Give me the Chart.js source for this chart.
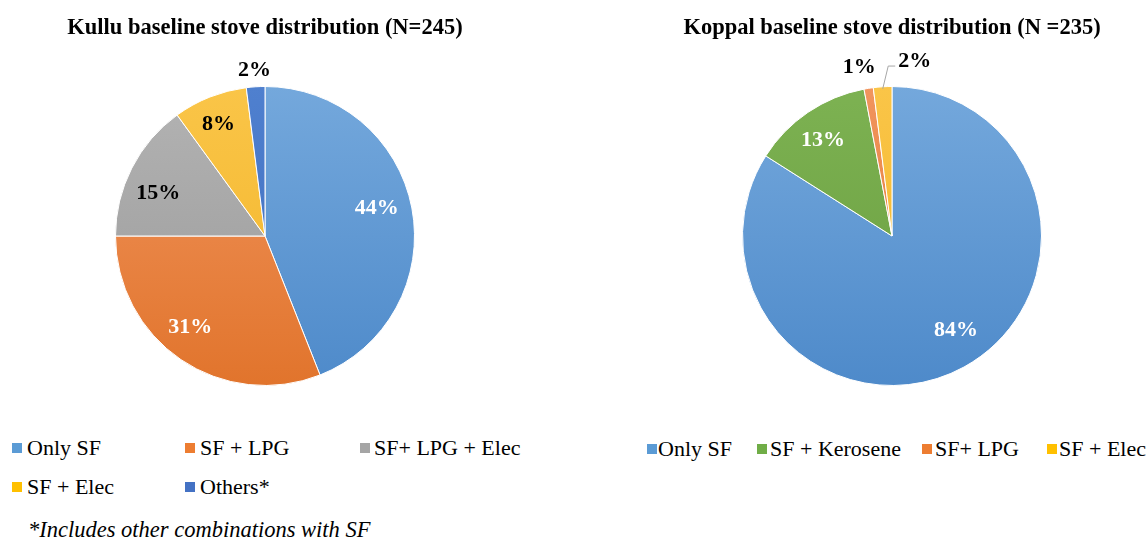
<!DOCTYPE html>
<html>
<head>
<meta charset="utf-8">
<script src="https://cdn.jsdelivr.net/npm/chart.js@4/dist/chart.umd.min.js"></script>
<style>
  body { margin: 0; background: #fff; }
  #wrap { position: relative; width: 1146px; height: 542px; background: #fff; font-family: "Liberation Serif", serif; color: #000; }
  canvas { position: absolute; top: 0; }
  .item { position: absolute; height: 26px; line-height: 26px; font-size: 22px; white-space: nowrap; }
  .sq { position: absolute; width: 10px; height: 10px; top: 8px; left: 0; }
  .note { position: absolute; left: 28px; top: 517px; font-size: 22.5px; font-style: italic; line-height: 26px; }
</style>
</head>
<body>
<div id="wrap">
  <canvas id="kullu" width="530" height="400" style="left:0px"></canvas>
  <canvas id="koppal" width="500" height="400" style="left:642px"></canvas>
  <div class="note">*Includes other combinations with SF</div>
</div>
<script>
// data
const kulluLabels = ["Only SF", "SF + LPG", "SF+ LPG + Elec", "SF + Elec", "Others*"];
const kulluValues = [44, 31, 15, 8, 2];
const koppalLabels = ["Only SF", "SF + Kerosene", "SF+ LPG", "SF + Elec"];
const koppalValues = [84, 13, 1, 2];

// colours (top / bottom of gradient, legend swatch)
const palette = {
  "Only SF": ["#74a8dc", "#4e8aca", "#5b9bd5"],
  "SF + LPG": ["#f1955e", "#e1742c", "#ed7d31"],
  "SF+ LPG": ["#f1955e", "#e1742c", "#ed7d31"],
  "SF+ LPG + Elec": ["#b3b3b3", "#999999", "#a5a5a5"],
  "SF + Elec": ["#fac548", "#f2b428", "#ffc000"],
  "Others*": ["#4f80cf", "#3e6cbc", "#4472c4"],
  "SF + Kerosene": ["#7db252", "#699d3f", "#70ad47"]
};

function gradFill(context) {
  const chart = context.chart;
  const area = chart.chartArea;
  const c = palette[chart.data.labels[context.dataIndex]];
  if (!area) return c[2];
  const g = chart.ctx.createLinearGradient(0, area.top, 0, area.bottom);
  g.addColorStop(0, c[0]);
  g.addColorStop(1, c[1]);
  return g;
}

const pieLabels = {
  id: "pieLabels",
  afterDatasetsDraw(chart, args, opts) {
    const ctx = chart.ctx;
    const meta = chart.getDatasetMeta(0);
    ctx.save();
    ctx.font = "bold 22px 'Liberation Serif'";
    ctx.textBaseline = "middle";
    meta.data.forEach((arc, i) => {
      const p = arc.getProps(["x", "y", "startAngle", "endAngle", "outerRadius"], true);
      const midRaw = (p.startAngle + p.endAngle) / 2;
      const mid = midRaw + (opts.nudge[i] || 0) * Math.PI / 180;
      const r = p.outerRadius * opts.factor[i];
      const x = p.x + Math.cos(mid) * r;
      const y = p.y + Math.sin(mid) * r;
      const text = chart.data.datasets[0].data[i] + "%";
      const w = ctx.measureText(text).width;
      if (opts.leader && opts.leader[i]) {
        const ex = p.x + Math.cos(midRaw) * (p.outerRadius - 2);
        const ey = p.y + Math.sin(midRaw) * (p.outerRadius - 2);
        ctx.strokeStyle = "#a6a6a6";
        ctx.lineWidth = 1;
        ctx.beginPath();
        ctx.moveTo(ex, ey);
        ctx.lineTo(x - w / 2 - 10, y + 5);
        ctx.lineTo(x - w / 2 - 3, y + 5);
        ctx.stroke();
      }
      ctx.fillStyle = opts.colors[i];
      ctx.textAlign = "center";
      ctx.fillText(text, x, y);
    });
    ctx.restore();
  }
};

function makePie(id, labels, values, title, labelOpts) {
  return new Chart(document.getElementById(id), {
    type: "pie",
    data: {
      labels: labels,
      datasets: [{
        data: values,
        backgroundColor: gradFill,
        borderColor: "#ffffff",
        borderWidth: 1
      }]
    },
    options: {
      responsive: false,
      devicePixelRatio: 1,
      animation: false,
      events: [],
      layout: { padding: { top: 0, bottom: 14, left: 0, right: 0 } },
      plugins: {
        legend: { display: false },
        tooltip: { enabled: false },
        title: {
          display: true,
          text: title,
          color: "#000",
          font: { family: "Liberation Serif", size: 22.5, weight: "bold", lineHeight: 1.2 },
          padding: { top: 14.5, bottom: 44.5 }
        },
        pieLabels: labelOpts
      }
    },
    plugins: [pieLabels]
  });
}

const kulluChart = makePie("kullu", kulluLabels, kulluValues, "Kullu baseline stove distribution (N=245)", {
  colors: ["#fff", "#fff", "#000", "#000", "#000"],
  factor: [0.77, 0.79, 0.77, 0.81, 1.11],
  nudge: [-3, 5, -5, -1, 0]
});

const koppalChart = makePie("koppal", koppalLabels, koppalValues, "Koppal baseline stove distribution (N =235)", {
  colors: ["#fff", "#fff", "#000", "#000"],
  factor: [0.76, 0.79, 1.15, 1.18],
  nudge: [-5.5, -1.5, -2, 11],
  leader: [false, false, false, true]
});

// legends built from the charts' labels
function buildLegend(chart, spots) {
  const wrap = document.getElementById("wrap");
  chart.data.labels.forEach((lab, i) => {
    const s = spots[i];
    const d = document.createElement("div");
    d.className = "item";
    d.style.left = s[0] + "px";
    d.style.top = (s[1] - 13) + "px";
    d.style.paddingLeft = s[2] + "px";
    const sq = document.createElement("span");
    sq.className = "sq";
    sq.style.background = palette[lab][2];
    d.appendChild(sq);
    d.appendChild(document.createTextNode(lab));
    wrap.appendChild(d);
  });
}

buildLegend(kulluChart, [[12, 448, 15], [185, 448, 15], [360, 448, 14], [12, 487, 15], [185, 487, 15]]);
buildLegend(koppalChart, [[647, 449, 11], [757, 449, 13], [922, 449, 13], [1047, 449, 12]]);
</script>
</body>
</html>
